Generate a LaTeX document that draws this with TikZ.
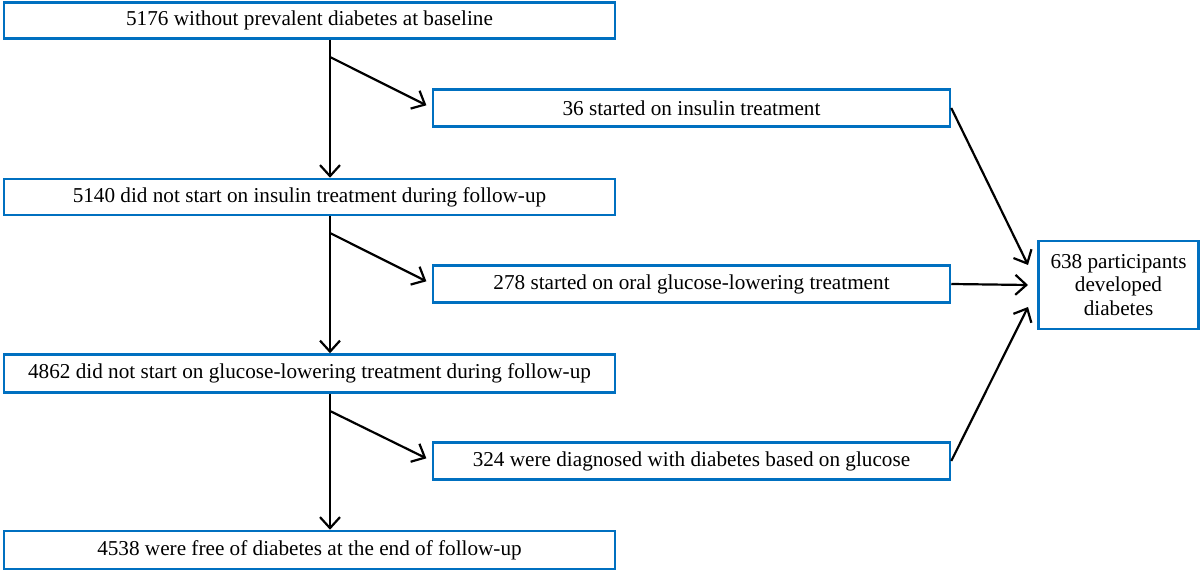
\documentclass[tikz,border=0pt]{standalone}
\usepackage{fontspec}
\setmainfont{Liberation Serif}
\usetikzlibrary{arrows.meta}
\definecolor{boxblue}{RGB}{0,112,192}
\tikzset{
    box/.style={draw=boxblue,line width=1.25pt,inner sep=0pt,align=center,font=\fontsize{10.6}{11.8}\selectfont},
    wide/.style={box,minimum width=305.5pt,minimum height=18pt},
    side/.style={box,minimum width=258.5pt,minimum height=18.5pt},
    flow/.style={line width=1.1pt,-{Straight Barb[length=5.5pt,width=10pt,line width=1.1pt]}}
}
\begin{document}
\begin{tikzpicture}[x=0.5pt,y=-0.5pt]
    \useasboundingbox (0,0) rectangle (1200,571);
    % left column
    \node[wide] (base) at (309.5,20.5) {5176 without prevalent diabetes at baseline};
    \node[wide] (noins) at (309.5,197) {5140 did not start on insulin treatment during follow-up};
    \node[wide,minimum height=19pt] (noglu) at (309.5,373.5) {4862 did not start on glucose-lowering treatment during follow-up};
    \node[wide,minimum height=19pt] (free) at (309.5,550) {4538 were free of diabetes at the end of follow-up};
    % right column
    \node[side] (ins) at (691.5,108) {36 started on insulin treatment};
    \node[side] (oral) at (691.5,284) {278 started on oral glucose-lowering treatment};
    \node[side] (glu) at (691.5,461) {324 were diagnosed with diabetes based on glucose};
    \node[box,minimum width=80pt,minimum height=44pt] (dev) at (1118.5,285) {638 participants\\developed\\diabetes};
    % branch points and arrow ends
    \coordinate (b1) at (330,57);
    \coordinate (b2) at (330,233);
    \coordinate (b3) at (330,411);
    \coordinate (in1) at (1028,265);
    \coordinate (in2) at (1028,285);
    \coordinate (in3) at (1028,307);
    \draw[flow] (base.south -| b1) -- (noins.north -| b1);
    \draw[flow] (noins.south -| b2) -- (noglu.north -| b2);
    \draw[flow] (noglu.south -| b3) -- (free.north -| b3);
    \draw[flow,shorten >=3pt] (b1) -- (ins.west);
    \draw[flow,shorten >=3pt] (b2) -- (oral.west);
    \draw[flow,shorten >=3pt] (b3) -- (glu.west);
    \draw[flow] (ins.east) -- (in1);
    \draw[flow] (oral.east) -- (in2);
    \draw[flow] (glu.east) -- (in3);
\end{tikzpicture}
\end{document}
